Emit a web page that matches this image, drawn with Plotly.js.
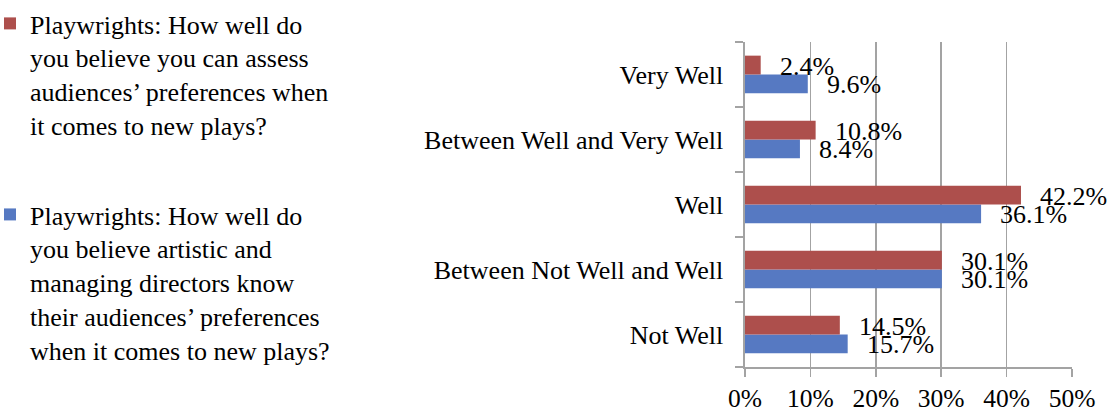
<!DOCTYPE html>
<html>
<head>
<meta charset="utf-8">
<script src="https://cdn.plot.ly/plotly-3.0.1.min.js"></script>
<style>
html,body{margin:0;padding:0;background:#fff;}
#chart{width:1111px;height:418px;}
</style>
</head>
<body>
<div id="chart"></div>
<script>
const categories = ['Not Well', 'Between Not Well and Well', 'Well', 'Between Well and Very Well', 'Very Well'];
const assessValues = [14.5, 30.1, 42.2, 10.8, 2.4];      // red series
const directorsValues = [15.7, 30.1, 36.1, 8.4, 9.6];    // blue series
const assessName = 'Playwrights: How well do<br>you believe you can assess<br>audiences’ preferences when<br>it comes to new plays?';
const directorsName = 'Playwrights: How well do<br>you believe artistic and<br>managing directors know<br>their audiences’ preferences<br>when it comes to new plays?';
const xTickVals = [0, 10, 20, 30, 40, 50];
const xTickText = ['0%', '10%', '20%', '30%', '40%', '50%'];

const FONT = 'Liberation Serif, Times New Roman, Times, serif';
const RED = '#AD4F4C';
const BLUE = '#5679C2';

const traces = [
  {
    type: 'bar', orientation: 'h', name: directorsName,
    y: categories, x: directorsValues,
    marker: {color: BLUE}, legend: 'legend2',
    hoverinfo: 'none'
  },
  {
    type: 'bar', orientation: 'h', name: assessName,
    y: categories, x: assessValues,
    marker: {color: RED}, legend: 'legend',
    hoverinfo: 'none'
  }
];

const annotations = [];
categories.forEach((c, i) => {
  annotations.push({
    x: assessValues[i], y: c, xref: 'x', yref: 'y',
    text: assessValues[i].toFixed(1) + '%', showarrow: false,
    xanchor: 'left', yanchor: 'middle', xshift: 17, yshift: 8,
    font: {family: FONT, size: 26, color: '#000'}
  });
  annotations.push({
    x: directorsValues[i], y: c, xref: 'x', yref: 'y',
    text: directorsValues[i].toFixed(1) + '%', showarrow: false,
    xanchor: 'left', yanchor: 'middle', xshift: 17, yshift: -10,
    font: {family: FONT, size: 26, color: '#000'}
  });
});

const legendCommon = {
  xref: 'container', yref: 'container', xanchor: 'left', yanchor: 'top',
  valign: 'top', indentation: -10,
  font: {family: FONT, size: 26, color: '#000'},
  bgcolor: 'rgba(0,0,0,0)', borderwidth: 0
};

const layout = {
  width: 1111, height: 418,
  margin: {l: 745, r: 39, t: 42, b: 51, pad: 0},
  paper_bgcolor: '#fff', plot_bgcolor: '#fff',
  barmode: 'group', bargap: 0.42, bargroupgap: 0,
  font: {family: FONT, size: 25, color: '#000'},
  showlegend: true,
  legend: Object.assign({}, legendCommon, {x: 0, y: 1}),
  legend2: Object.assign({}, legendCommon, {x: 0, y: 0.543}),
  xaxis: {
    range: [0, 50], tickvals: xTickVals, ticktext: xTickText,
    showgrid: true, gridcolor: '#A3A3A3', gridwidth: 1.6,
    showline: true, linecolor: '#A3A3A3', linewidth: 1.6,
    ticks: 'outside', ticklen: 8, tickwidth: 1.6, tickcolor: '#A3A3A3',
    zeroline: false, fixedrange: true,
    tickfont: {family: FONT, size: 25.5, color: '#000'}
  },
  yaxis: {
    type: 'category', categoryorder: 'array', categoryarray: categories,
    showgrid: false, showline: true, linecolor: '#A3A3A3', linewidth: 1.6,
    ticks: 'outside', ticklen: 8, tickwidth: 1.6, tickcolor: '#A3A3A3',
    tickson: 'boundaries', ticklabelstandoff: 15,
    zeroline: false, fixedrange: true,
    tickfont: {family: FONT, size: 26, color: '#000'}
  },
  annotations: annotations
};

Plotly.newPlot('chart', traces, layout, {displayModeBar: false, staticPlot: true});
</script>
</body>
</html>
